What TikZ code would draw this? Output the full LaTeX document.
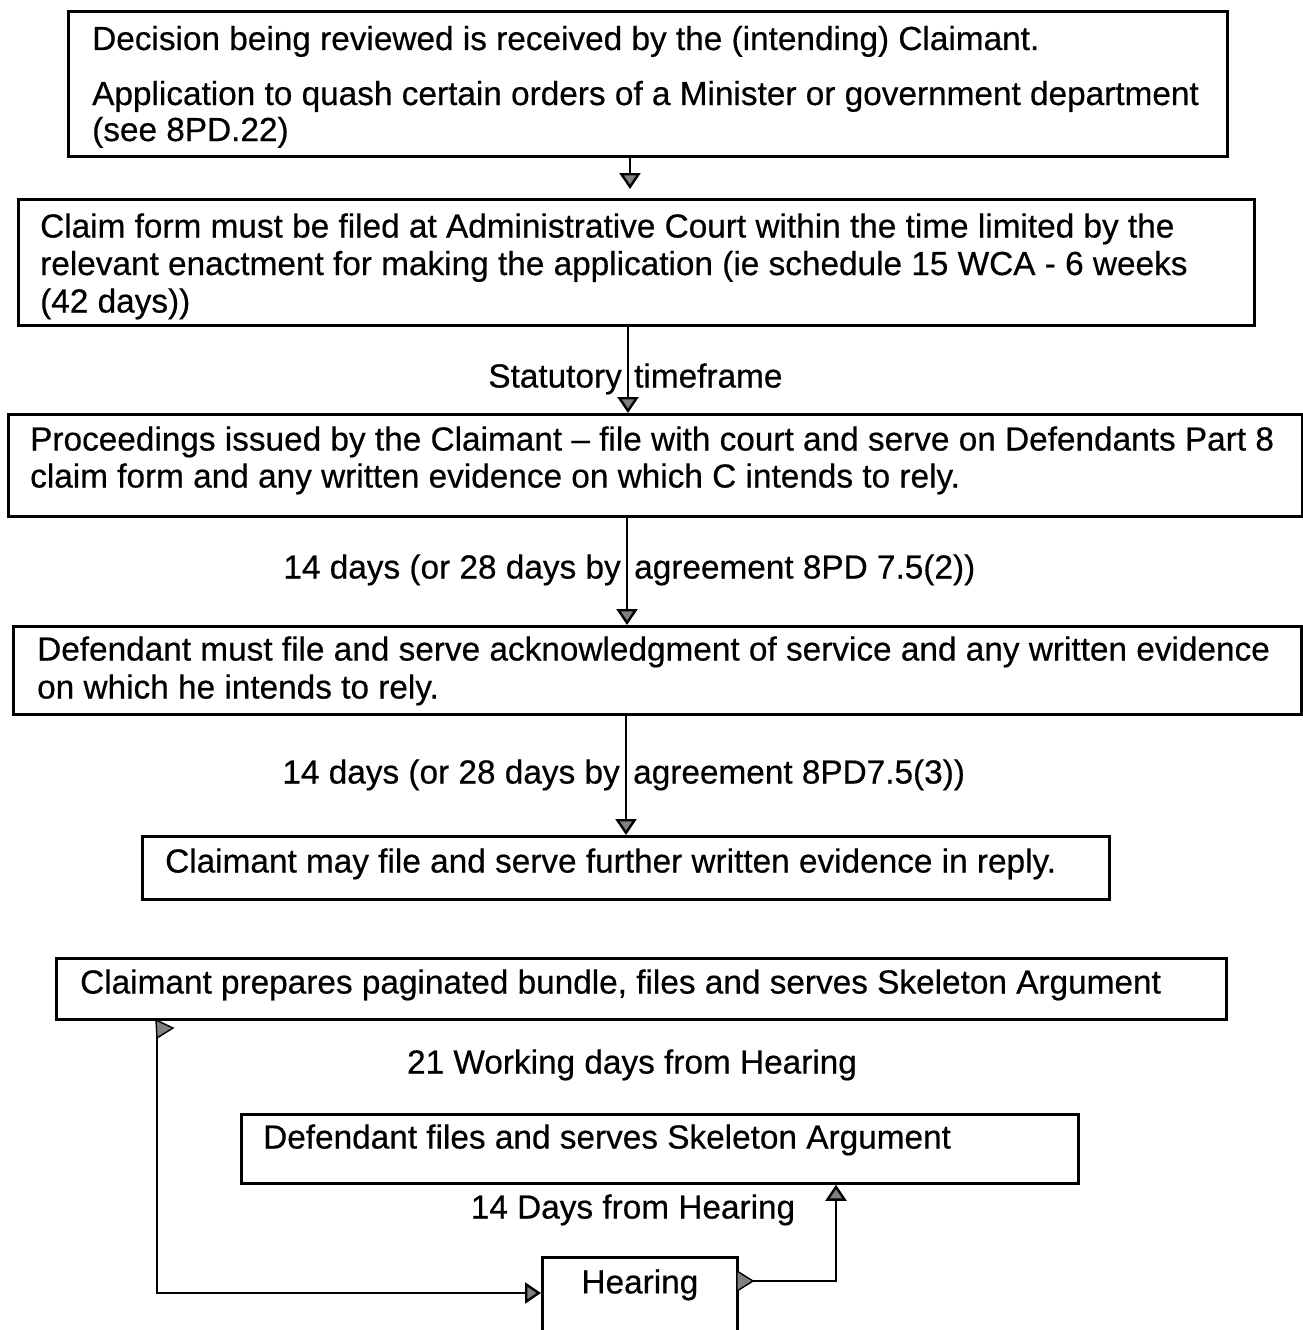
\documentclass[tikz,border=0pt]{standalone}
\usepackage{fontspec}
\setmainfont{Liberation Sans}
\newfontfamily\txtfont{Liberation Sans}[FakeBold=0.5,Ligatures=TeX]
\usetikzlibrary{arrows.meta}
\newcommand\fs{\txtfont\fontsize{33.35}{37}\selectfont}
\tikzset{
  boxd/.style={draw, line width=2.8pt, inner sep=0pt, anchor=north west},
  txt/.style={font=\fs, inner sep=0pt, anchor=base west},
  lbl/.style={font=\fs, inner sep=0pt},
  arr/.style={line width=2.4pt, -{Triangle[width=21pt,length=16pt,fill=black!50]}},
  tipmark/.style={draw=black, line width=1.4pt, fill=black!50}
}
\begin{document}
\begin{tikzpicture}[x=1pt,y=-1pt]
\useasboundingbox (0,0) rectangle (1303,1330);
\fill[white] (0,0) rectangle (1303,1330);
\clip (0,0) rectangle (1303,1330);

% boxes
\node[boxd, minimum width=1159pt, minimum height=145pt] (b1) at (67,10) {};
\node[boxd, minimum width=1236pt, minimum height=126pt] (b2) at (17,198) {};
\node[boxd, minimum width=1294pt, minimum height=102pt] (b3) at (7,413) {};
\node[boxd, minimum width=1288pt, minimum height=88pt] (b4) at (12,625) {};
\node[boxd, minimum width=967pt, minimum height=63pt] (b5) at (141,835) {};
\node[boxd, minimum width=1170pt, minimum height=61pt] (b6) at (55,957) {};
\node[boxd, minimum width=837pt, minimum height=69pt] (b7) at (240,1113) {};
\node[boxd, align=center, inner xsep=0pt, inner ysep=8pt, text width=195pt, font=\fs,
      text height=28pt, text depth=70pt] (hear) at (541,1256) {Hearing};

% box texts
\node[txt] (t1a) at (92,50) {Decision being reviewed is received by the (intending) Claimant.};
\node[txt] (t1b) at (92,105) {Application to quash certain orders of a Minister or government department};
\node[txt] (t1c) at (92,141) {(see 8PD.22)};
\node[txt] (t2a) at (40,237.5) {Claim form must be filed at Administrative Court within the time limited by the};
\node[txt] (t2b) at (40,275) {relevant enactment for making the application (ie schedule 15 WCA - 6 weeks};
\node[txt] (t2c) at (40,312.5) {(42 days))};
\node[txt] (t3a) at (30,450.5) {Proceedings issued by the Claimant – file with court and serve on Defendants Part 8};
\node[txt] (t3b) at (30,487.5) {claim form and any written evidence on which C intends to rely.};
\node[txt] (t4a) at (37,660.5) {Defendant must file and serve acknowledgment of service and any written evidence};
\node[txt] (t4b) at (37,698.5) {on which he intends to rely.};
\node[txt] (t5) at (165,872.5) {Claimant may file and serve further written evidence in reply.};
\node[txt] (t6) at (80,993.5) {Claimant prepares paginated bundle, files and serves Skeleton Argument};
\node[txt] (t7) at (263,1148.5) {Defendant files and serves Skeleton Argument};

% labels
\node[lbl, anchor=base east] (l1a) at (622,387.5) {Statutory};
\node[lbl, anchor=base west] (l1b) at (634,387.5) {timeframe};
\node[lbl, anchor=base east] (l2a) at (621,578.5) {14 days (or 28 days by};
\node[lbl, anchor=base west] (l2b) at (634,578.5) {agreement 8PD 7.5(2))};
\node[lbl, anchor=base east] (l3a) at (620,783.5) {14 days (or 28 days by};
\node[lbl, anchor=base west] (l3b) at (633,783.5) {agreement 8PD7.5(3))};
\node[lbl, anchor=base] (l4) at (632,1073.5) {21 Working days from Hearing};
\node[lbl, anchor=base] (l5) at (633,1218.5) {14 Days from Hearing};

% vertical connectors
\coordinate (x1) at (630,0);
\coordinate (x2) at (628,0);
\coordinate (x3) at (627,0);
\coordinate (x4) at (626,0);
\draw[arr, shorten >=9pt] (b1.south -| x1) -- (b2.north -| x1);
\draw[arr] (b2.south -| x2) -- (b3.north -| x2);
\draw[arr] (b3.south -| x3) -- (b4.north -| x3);
\draw[arr] (b4.south -| x4) -- (b5.north -| x4);

% loop connectors at the bottom
\coordinate (lc) at (157,1293);
\draw[arr] (b6.south -| lc) -- (lc) -- (lc -| hear.west);
\filldraw[tipmark] (156,1020) -- (173,1028) -- (157,1038) -- cycle;

\coordinate (rc) at (836,1281);
\draw[arr] (rc -| hear.east) -- (rc) -- (rc |- b7.south);
\filldraw[tipmark] (737,1271) -- (753,1281) -- (737,1291) -- cycle;
\end{tikzpicture}
\end{document}
